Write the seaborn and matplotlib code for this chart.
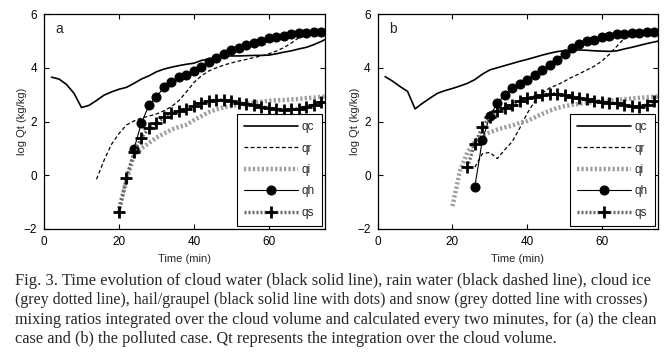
import matplotlib
matplotlib.use("Agg")
import matplotlib.pyplot as plt
import seaborn as sns

# ==========================
# DATA (log Qt, kg/kg)
# ==========================
time_qc = [2, 4, 6, 8, 10, 12, 14, 16, 18, 20, 22, 24, 26, 28, 30, 32, 34, 36, 38,
           40, 42, 44, 46, 48, 50, 52, 54, 56, 58, 60, 62, 64, 66, 68, 70, 72, 74, 76]
time_from_14 = [14, 16, 18, 20, 22, 24, 26, 28, 30, 32, 34, 36, 38, 40, 42, 44,
                46, 48, 50, 52, 54, 56, 58, 60, 62, 64, 66, 68, 70, 72, 74, 76]
time_from_20 = [20, 22, 24, 26, 28, 30, 32, 34, 36, 38, 40, 42, 44, 46, 48, 50,
                52, 54, 56, 58, 60, 62, 64, 66, 68, 70, 72, 74, 76]
time_from_20_to_74 = time_from_20[:-1]
time_from_24 = [24, 26, 28, 30, 32, 34, 36, 38, 40, 42, 44, 46, 48, 50, 52, 54,
                56, 58, 60, 62, 64, 66, 68, 70, 72, 74]
time_from_26 = [26, 28, 30, 32, 34, 36, 38, 40, 42, 44, 46, 48, 50, 52, 54, 56,
                58, 60, 62, 64, 66, 68, 70, 72, 74, 76]
time_from_26_to_74 = time_from_26[:-1]

# panel a - clean case
qc_a = [3.65, 3.58, 3.38, 3.05, 2.52, 2.6, 2.78, 2.98, 3.1, 3.2, 3.27, 3.42, 3.58,
        3.7, 3.85, 3.95, 4.02, 4.08, 4.13, 4.17, 4.27, 4.33, 4.39, 4.43, 4.44, 4.44,
        4.45, 4.46, 4.46, 4.47, 4.52, 4.58, 4.63, 4.7, 4.76, 4.86, 4.98, 5.12]
qr_a = [-0.15, 0.55, 1.15, 1.55, 1.87, 2.02, 2.13, 2.2, 2.28, 2.4, 2.55, 2.78, 3.1,
        3.45, 3.7, 3.88, 4.0, 4.1, 4.18, 4.25, 4.31, 4.38, 4.44, 4.52, 4.62, 4.75,
        4.92, 5.12, 5.28, 5.32, 5.34, 5.36]
qi_a = [-1.25, -0.2, 0.75, 1.0, 1.2, 1.4, 1.55, 1.7, 1.8, 1.88, 2.05, 2.2, 2.35,
        2.45, 2.53, 2.58, 2.62, 2.66, 2.7, 2.74, 2.77, 2.79, 2.8, 2.82, 2.84, 2.87,
        2.89, 2.92, 2.94]
qh_a = [0.97, 1.95, 2.61, 2.92, 3.27, 3.48, 3.64, 3.73, 3.88, 4.04, 4.2, 4.35, 4.5,
        4.66, 4.75, 4.83, 4.92, 5.0, 5.09, 5.16, 5.2, 5.26, 5.3, 5.31, 5.32, 5.34]
qs_a = [-1.37, -0.1, 0.85, 1.4, 1.75, 1.95, 2.15, 2.3, 2.38, 2.47, 2.58, 2.68, 2.76,
        2.8, 2.8, 2.76, 2.7, 2.66, 2.6, 2.55, 2.5, 2.46, 2.44, 2.45, 2.48, 2.54,
        2.62, 2.72]

# panel b - polluted case
qc_b = [3.67, 3.5, 3.3, 3.12, 2.47, 2.68, 2.87, 3.05, 3.15, 3.23, 3.32, 3.42, 3.56,
        3.76, 3.92, 4.0, 4.08, 4.16, 4.24, 4.31, 4.39, 4.47, 4.54, 4.6, 4.64, 4.66,
        4.66, 4.65, 4.63, 4.62, 4.61, 4.63, 4.7, 4.76, 4.83, 4.9, 4.96, 5.02]
qr_b = [0.3, 0.8, 0.85, 0.62, 0.95, 1.25, 1.75, 2.3, 2.75, 3.05, 3.25, 3.36, 3.5,
        3.65, 3.78, 3.92, 4.06, 4.25, 4.5, 4.8, 5.1, 5.28, 5.3, 5.32, 5.33, 5.34]
qi_b = [-1.15, 0.15, 0.85, 1.25, 1.48, 1.6, 1.7, 1.78, 1.85, 1.95, 2.02, 2.15, 2.28,
        2.4, 2.5, 2.57, 2.62, 2.66, 2.7, 2.73, 2.76, 2.78, 2.8, 2.83, 2.86, 2.88,
        2.9, 2.92, 2.94]
qh_b = [-0.42, 1.3, 2.2, 2.68, 3.0, 3.25, 3.4, 3.55, 3.74, 3.92, 4.1, 4.3, 4.52,
        4.73, 4.88, 4.98, 5.03, 5.15, 5.2, 5.24, 5.25, 5.3, 5.31, 5.32, 5.33]
qs_b = [0.3, 1.18, 1.78, 2.18, 2.4, 2.5, 2.6, 2.75, 2.86, 2.92, 2.98, 3.02, 3.04,
        2.98, 2.92, 2.87, 2.82, 2.77, 2.72, 2.7, 2.67, 2.62, 2.56, 2.55, 2.62, 2.75]

panels = {
    "a": dict(qc=(time_qc, qc_a), qr=(time_from_14, qr_a), qi=(time_from_20, qi_a),
              qh=(time_from_24, qh_a), qs=(time_from_20_to_74, qs_a)),
    "b": dict(qc=(time_qc, qc_b), qr=(time_from_26, qr_b), qi=(time_from_20, qi_b),
              qh=(time_from_26_to_74, qh_b), qs=(time_from_24, qs_b)),
}

x_ticks = [0, 20, 40, 60]
y_ticks = [-2, 0, 2, 4, 6]

caption_lines = [
    "Fig. 3. Time evolution of cloud water (black solid line), rain water (black dashed line), cloud ice",
    "(grey dotted line), hail/graupel (black solid line with dots) and snow (grey dotted line with crosses)",
    "mixing ratios integrated over the cloud volume and calculated every two minutes, for (a) the clean",
    "case and (b) the polluted case. Qt represents the integration over the cloud volume.",
]

# ==========================
# STYLE
# ==========================
sns.set_style("ticks")
plt.rcParams["font.family"] = ["Liberation Sans", "DejaVu Sans"]
plt.rcParams["xtick.direction"] = "in"
plt.rcParams["ytick.direction"] = "in"
plt.rcParams["axes.edgecolor"] = "black"
plt.rcParams["axes.linewidth"] = 0.9

styles = {
    "qc": dict(color="black", linestyle="-", linewidth=1.2),
    "qr": dict(color="black", linestyle=(0, (3, 2)), linewidth=0.9),
    "qi": dict(color="0.62", linestyle=(0, (0.5, 0.5)), linewidth=3.2),
    "qh": dict(color="black", linestyle="-", linewidth=0.8, marker="o",
               markersize=6.5, markerfacecolor="black", markeredgecolor="black"),
    "qs": dict(color="0.4", linestyle=(0, (0.6, 0.6)), linewidth=2.4, marker="+",
               markersize=8.5, markeredgewidth=2, markeredgecolor="black"),
}

fig = plt.figure(figsize=(6.68, 3.53), dpi=100)
ax_a = fig.add_axes([0.0659, 0.3513, 0.4207, 0.609])
ax_b = fig.add_axes([0.5654, 0.3513, 0.4196, 0.609])

for ax, name in [(ax_a, "a"), (ax_b, "b")]:
    for key in ["qc", "qr", "qi", "qh", "qs"]:
        t, v = panels[name][key]
        sns.lineplot(x=t, y=v, ax=ax, label=key, **styles[key])
    ax.set_xlim(0, 75)
    ax.set_ylim(-2, 6)
    ax.set_xticks(x_ticks)
    ax.set_yticks(y_ticks)
    ax.tick_params(top=True, right=True, length=3.5, width=0.8, labelsize=8.5,
                   pad=5, colors="black")
    ax.set_xlabel("Time (min)", fontsize=8)
    ax.set_ylabel("log Qt (kg/kg)", fontsize=8)
    ax.xaxis.set_label_coords(0.5, -0.118)
    ax.yaxis.set_label_coords(-0.062, 0.5)
    ax.text(0.04, 0.93, name, transform=ax.transAxes, fontsize=10, va="center")
    leg = ax.legend(loc="lower right", bbox_to_anchor=(0.989, 0.014), borderaxespad=0,
                    fontsize=8.5, handlelength=4.6, handletextpad=0.3, labelspacing=0.8,
                    borderpad=0.6, fancybox=False, framealpha=1, edgecolor="black",
                    numpoints=1)
    leg.get_frame().set_linewidth(0.8)

# ==========================
# CAPTION (each full line sized to fill the text block)
# ==========================
fig.canvas.draw()
renderer = fig.canvas.get_renderer()
W, H = 668, 353
x_left, x_right = 15, 658
baselines = [285, 304.3, 323.5, 342.8]
serif = "Liberation Serif"

sizes = []
for i, line in enumerate(caption_lines[:-1]):
    txt = fig.text(x_left / W, 1 - baselines[i] / H, line, fontsize=10,
                   family=serif, va="baseline")
    width = txt.get_window_extent(renderer).width
    size = 10 * (x_right - x_left) / width * 0.99
    txt.set_fontsize(size)
    sizes.append(size)

fig.text(x_left / W, 1 - baselines[-1] / H, caption_lines[-1],
         fontsize=sum(sizes) / len(sizes), family=serif, va="baseline")

fig.savefig("out.png", dpi=100)
